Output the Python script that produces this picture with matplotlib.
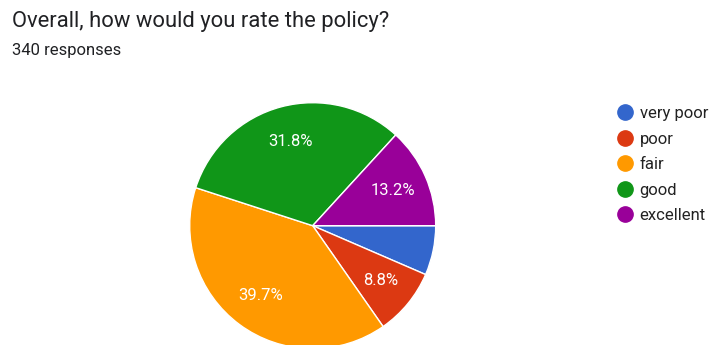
import matplotlib.pyplot as plt
from matplotlib.lines import Line2D

plt.rcParams['font.family'] = ['Roboto', 'DejaVu Sans']

# data (very poor has no label in the picture)
categories = ['very poor', 'poor', 'fair', 'good', 'excellent']
shares = [6.5, 8.8, 39.7, 31.8, 13.2]
colors = ['#3366cc', '#dc3912', '#ff9900', '#109618', '#990099']
title = 'Overall, how would you rate the policy?'
subtitle = '340 responses'


def pct_label(p):
    # small slices get no label, like the original
    return '' if p < 7 else '%.1f%%' % p


def main():
    fig = plt.figure(figsize=(7.11, 3.45), dpi=100)

    # pie box: centre (312, 226) px, radius 123 px
    ax = fig.add_axes([0.2668, -0.0107, 0.346, 0.713])
    wedges, texts, autotexts = ax.pie(
        shares, colors=colors, startangle=0, counterclock=False,
        autopct=pct_label, pctdistance=0.71,
        wedgeprops=dict(edgecolor='white', linewidth=1),
        textprops=dict(color='white', fontsize=12),
    )
    ax.set_xlim(-1, 1)
    ax.set_ylim(-1, 1)
    ax.set_aspect('equal')
    for w in wedges:
        w.set_clip_on(False)

    fig.text(12 / 711, 1 - 27 / 345, title, fontsize=15.8, color='#202124')
    fig.text(12 / 711, 1 - 55 / 345, subtitle, fontsize=12, color='#202124')

    handles = [Line2D([], [], marker='o', linestyle='none', markersize=11,
                      markerfacecolor=c, markeredgecolor=c) for c in colors]
    fig.legend(handles, categories, loc='upper left',
               bbox_to_anchor=(613 / 711, 1 - 106 / 345), frameon=False,
               fontsize=12, labelspacing=0.63, handletextpad=0.2,
               handlelength=1.4, borderpad=0, borderaxespad=0,
               labelcolor='#222222')

    fig.savefig('out.png', dpi=100)


if __name__ == '__main__':
    main()
